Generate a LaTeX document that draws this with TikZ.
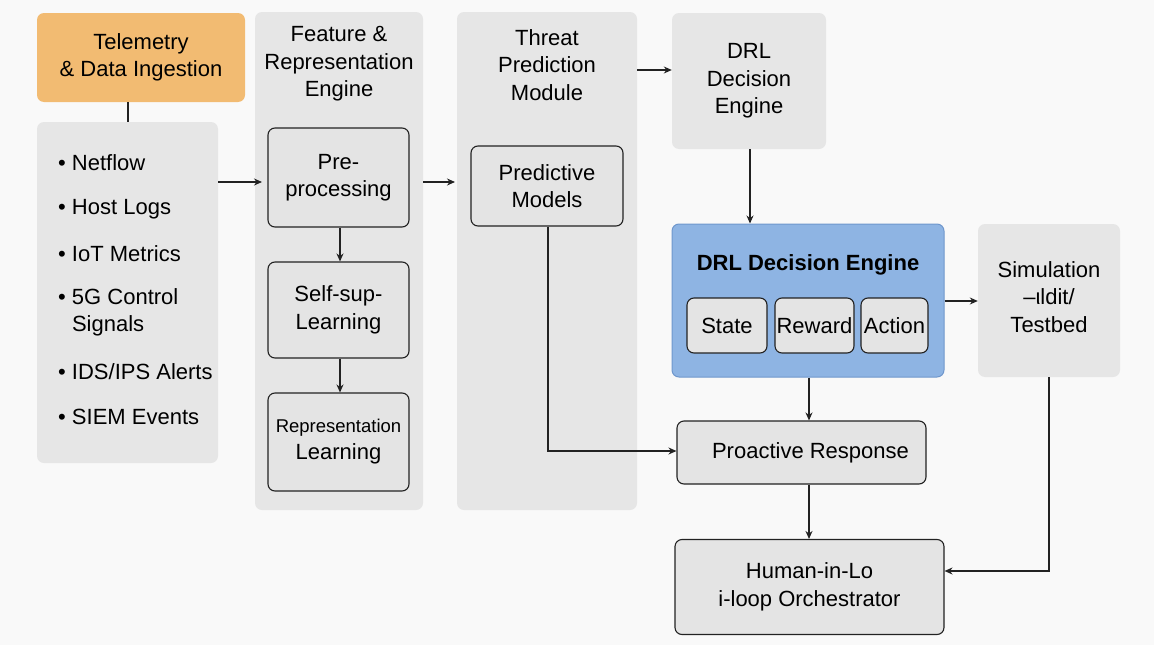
\documentclass[tikz,border=0pt]{standalone}
\usepackage{fontspec}
\setmainfont{Liberation Sans}
\usetikzlibrary{arrows.meta}
\definecolor{bgc}{HTML}{F9F9F9}
\definecolor{colgray}{HTML}{E6E6E6}
\definecolor{ingray}{HTML}{E4E4E4}
\definecolor{orangec}{HTML}{F2BB72}
\definecolor{bluec}{HTML}{8EB4E3}
\definecolor{blueb}{HTML}{6F97CC}
\definecolor{linec}{HTML}{222222}
\tikzset{
  txt/.style={font=\fontsize{22}{27.5}\selectfont, align=center, inner sep=0pt, text=black},
  colbox/.style={fill=colgray, draw=none, rounded corners=7pt, inner sep=0pt},
  inbox/.style={fill=ingray, draw=linec, line width=1.1pt, rounded corners=7pt, inner sep=0pt, font=\fontsize{22}{27.5}\selectfont, align=center},
  arr/.style={draw=linec, line width=1.2pt, -{Stealth[length=8pt,width=7pt]}},
  ln/.style={draw=linec, line width=1.2pt},
}
\begin{document}
\begin{tikzpicture}[x=1pt,y=-1pt]
\useasboundingbox[fill=bgc] (0,0) rectangle (1154,645);

% column 1
\node[fill=orangec, rounded corners=7pt, minimum width=208pt, minimum height=89pt, txt] (tel) at (141,57.5) {Telemetry\\ \& Data Ingestion};
\node[colbox, minimum width=181pt, minimum height=341pt] (list) at (127.5,292.5) {};
\node[txt, anchor=west] (l1) at (58,163) {• Netflow};
\node[txt, anchor=west] (l2) at (58,209) {• Host Logs};
\node[txt, anchor=west] (l3) at (58,254) {• IoT Metrics};
\node[txt, anchor=west, align=left] (l4) at (58,312.5) {• 5G Control\\\phantom{• }Signals};
\node[txt, anchor=west] (l5) at (58,372) {• IDS/IPS Alerts};
\node[txt, anchor=west] (l6) at (58,417) {• SIEM Events};

% column 2
\node[colbox, minimum width=168pt, minimum height=498pt] (feat) at (339,261) {};
\node[txt] (featt) at (339,64) {Feature \&\\Representation\\Engine};
\node[inbox, minimum width=141pt, minimum height=99pt] (pre) at (338.5,177.5) {Pre-\\processing};
\node[inbox, minimum width=141pt, minimum height=96pt] (self) at (338.5,310) {Self-sup-\\Learning};
\node[inbox, minimum width=141pt, minimum height=98pt, font=\fontsize{18.5}{27}\selectfont] (rep) at (338.5,442) {Representation\\\fontsize{22}{27}\selectfont Learning};

% column 3
\node[colbox, minimum width=180pt, minimum height=498pt] (thr) at (547,261) {};
\node[txt] (thrt) at (547,65) {Threat\\Prediction\\Module};
\node[inbox, minimum width=152pt, minimum height=80pt] (pred) at (547,186) {Predictive\\Models};

% column 4
\node[colbox, minimum width=154pt, minimum height=136pt, txt] (drl1) at (749,81) {DRL\\Decision\\Engine};
\node[fill=bluec, draw=blueb, line width=1pt, rounded corners=7pt, minimum width=272pt, minimum height=153pt, inner sep=0pt] (drl) at (808,300.5) {};
\node[txt, font=\bfseries\fontsize{22}{27.5}\selectfont] (drlt) at (808,265) {DRL Decision Engine};
\node[inbox, minimum width=80pt, minimum height=55pt] (state) at (727,325.5) {State};
\node[inbox, minimum width=79pt, minimum height=55pt] (reward) at (814.5,325.5) {Reward};
\node[inbox, minimum width=67pt, minimum height=55pt] (action) at (894.5,325.5) {Action};

\node[colbox, minimum width=142pt, minimum height=153pt] (sim) at (1049,300.5) {};
\node[txt] (simt) at (1049,297) {Simulation\\–ιldit/\\Testbed};

\node[inbox, minimum width=249pt, minimum height=63pt] (pro) at (801.5,452.5) {\hspace*{18pt}Proactive Response};
\node[inbox, minimum width=269pt, minimum height=95pt] (hum) at (809.5,587) {Human-in-Lo\\i-loop Orchestrator};

% connectors
\draw[ln] (tel.south -| 128,0) -- (list.north -| 128,0);
\draw[arr] (list.east |- 0,182) -- (262,182) coordinate (c1);
\draw[arr] (feat.east |- 0,182) -- (455,182);
\draw[arr] (pre.south -| 340,0) -- (self.north -| 340,0);
\draw[arr] (self.south -| 340,0) -- (rep.north -| 340,0);
\draw[arr] (thr.east |- 0,70) -- (drl1.west |- 0,70);
\draw[arr] (drl1.south -| 750,0) -- (drl.north -| 750,0);
\draw[arr] (drl.east |- 0,301) -- (sim.west |- 0,301);
\draw[arr] (pred.south -| 548,0) |- (pro.west |- 0,451);
\draw[arr] (drl.south -| 809,0) -- (pro.north -| 809,0);
\draw[arr] (pro.south -| 809,0) -- (hum.north -| 809,0);
\draw[arr] (sim.south -| 1049,0) |- (hum.east |- 0,571);
\end{tikzpicture}
\end{document}
